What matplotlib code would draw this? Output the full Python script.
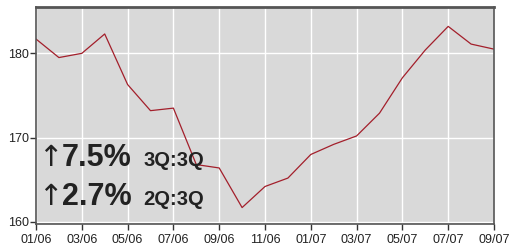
import matplotlib
matplotlib.use('Agg')
import matplotlib.pyplot as plt

months = ['01/06', '02/06', '03/06', '04/06', '05/06', '06/06', '07/06', '08/06', '09/06',
          '10/06', '11/06', '12/06', '01/07', '02/07', '03/07', '04/07', '05/07', '06/07',
          '07/07', '08/07', '09/07']
values = [181.7, 179.5, 180.0, 182.3, 176.3, 173.2, 173.5, 166.8, 166.4,
          161.7, 164.2, 165.2, 168.0, 169.2, 170.2, 172.9, 177.1, 180.4,
          183.2, 181.1, 180.5]
y_ticks = [160, 170, 180]
notes = [('7.5%', '3Q:3Q'), ('2.7%', '2Q:3Q')]

plt.rcParams['font.family'] = ['Liberation Sans', 'DejaVu Sans']

W, H = 511, 252
fig = plt.figure(figsize=(W / 100, H / 100), dpi=100)
ax = fig.add_axes([36 / W, 28 / H, 458 / W, 217 / H])
ax.set_facecolor('#d9d9d9')

x = list(range(len(months)))
ax.plot(x, values, color='#a31f2b', lw=0.9)

ax.set_xlim(0, len(months) - 1)
ax.set_ylim(159.75, 185.5)
ax.set_xticks(x[::2])
ax.set_xticklabels(months[::2])
ax.set_yticks(y_ticks)
ax.grid(True, color='white', lw=1)
ax.set_axisbelow(True)
ax.tick_params(axis='both', labelsize=9, color='#333333', labelcolor='#222222',
               length=4, width=1)
ax.tick_params(axis='x', pad=3)
ax.tick_params(axis='y', pad=1)
for s in ax.spines.values():
    s.set_color('#555555')
    s.set_linewidth(1.2)
ax.spines['top'].set_linewidth(2)

# percentage notes, positioned in pixels
for i, (big, small) in enumerate(notes):
    base = 166 + i * 39
    fig.text(38 / W, 1 - base / H, '\u2191', fontsize=21, color='#222222',
             family=['DejaVu Sans'], va='baseline', ha='left')
    fig.text(62 / W, 1 - base / H, big, fontsize=22, fontweight='bold',
             color='#222222', va='baseline', ha='left')
    fig.text(143 / W, 1 - base / H, small, fontsize=14.5, fontweight='bold',
             color='#222222', va='baseline', ha='left')

fig.savefig('out.png', dpi=100)
